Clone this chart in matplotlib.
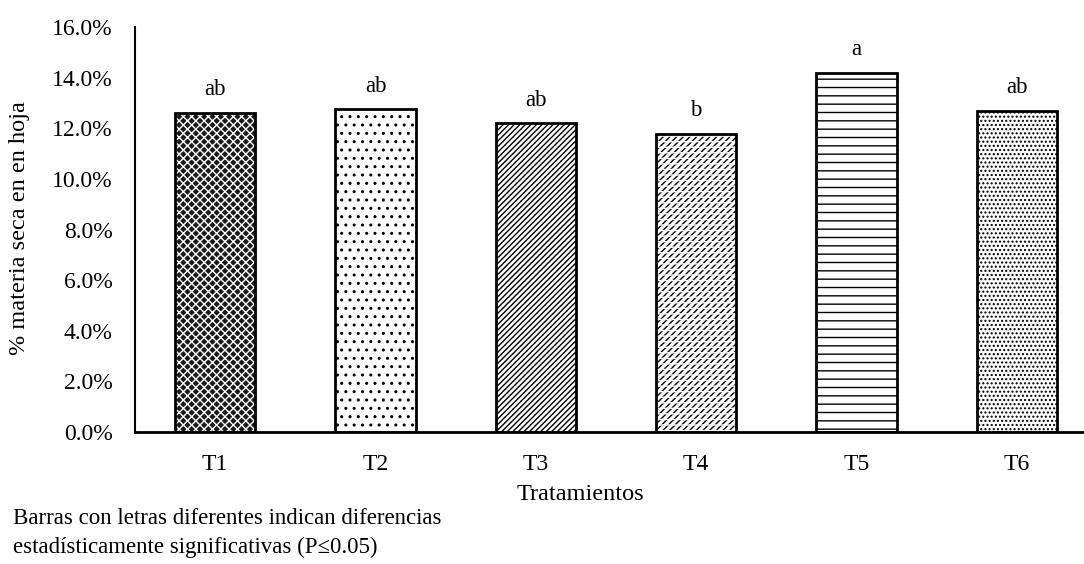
import matplotlib
matplotlib.use("Agg")
import matplotlib.pyplot as plt
from matplotlib.ticker import FuncFormatter

categories = ["T1", "T2", "T3", "T4", "T5", "T6"]
values = [12.6, 12.75, 12.2, 11.78, 14.2, 12.68]
letters = ["ab", "ab", "ab", "b", "a", "ab"]
yticks = [0, 2, 4, 6, 8, 10, 12, 14, 16]

plt.rcParams['font.family'] = ['Liberation Serif', 'DejaVu Serif']
plt.rcParams['hatch.linewidth'] = 1.0

fig = plt.figure(figsize=(10.84, 5.64), dpi=100)
ax = fig.add_axes([135/1084, 1 - 432/564, 962/1084, 405/564])

x = list(range(len(categories)))
w = 0.5
styles = [
    dict(facecolor="#1a1a1a", edgecolor="white", hatch="xxxx"),
    dict(facecolor="white", edgecolor="black", hatch=".."),
    dict(facecolor="white", edgecolor="black", hatch="//////"),
    dict(facecolor="white", edgecolor="black", hatch="/////"),
    dict(facecolor="white", edgecolor="black", hatch="--"),
    dict(facecolor="white", edgecolor="black", hatch="...."),
]
for i, (xi, v) in enumerate(zip(x, values)):
    ax.bar(xi, v, width=w, linewidth=0, zorder=2, **styles[i])
    if categories[i] == "T4":
        ax.bar(xi, v, width=w, linewidth=0, facecolor="none",
               edgecolor="white", hatch="---", zorder=3)
    ax.bar(xi, v, width=w, facecolor="none", edgecolor="black",
           linewidth=2, zorder=4)
    ax.text(xi, v + 0.5, letters[i], ha="center", va="bottom", fontsize=16.5)

ax.set_xlim(-0.5, len(categories) - 0.5)
ax.set_ylim(0, 16)
ax.set_yticks(yticks)
ax.yaxis.set_major_formatter(FuncFormatter(lambda v, p: f"{v:.1f}%"))
ax.set_xticks(x)
ax.set_xticklabels(categories)
ax.tick_params(axis="both", length=0, labelsize=17)
ax.tick_params(axis="x", pad=16)
ax.tick_params(axis="y", pad=16)
for s in ["top", "right"]:
    ax.spines[s].set_visible(False)
ax.spines["left"].set_linewidth(1.5)
ax.spines["bottom"].set_linewidth(2)
fig.text(20/1084, 1 - 228/564, "% materia seca en en hoja", rotation=90,
         ha="center", va="center", fontsize=17.5)
fig.text(580/1084, 1 - 494/564, "Tratamientos", ha="center", va="center", fontsize=17.5)
fig.text(13/1084, 1 - 519/564, "Barras con letras diferentes indican diferencias",
         ha="left", va="center", fontsize=16.5)
fig.text(13/1084, 1 - 547/564, "estadísticamente significativas (P≤0.05)",
         ha="left", va="center", fontsize=16.5)

fig.savefig("out.png", dpi=100)
